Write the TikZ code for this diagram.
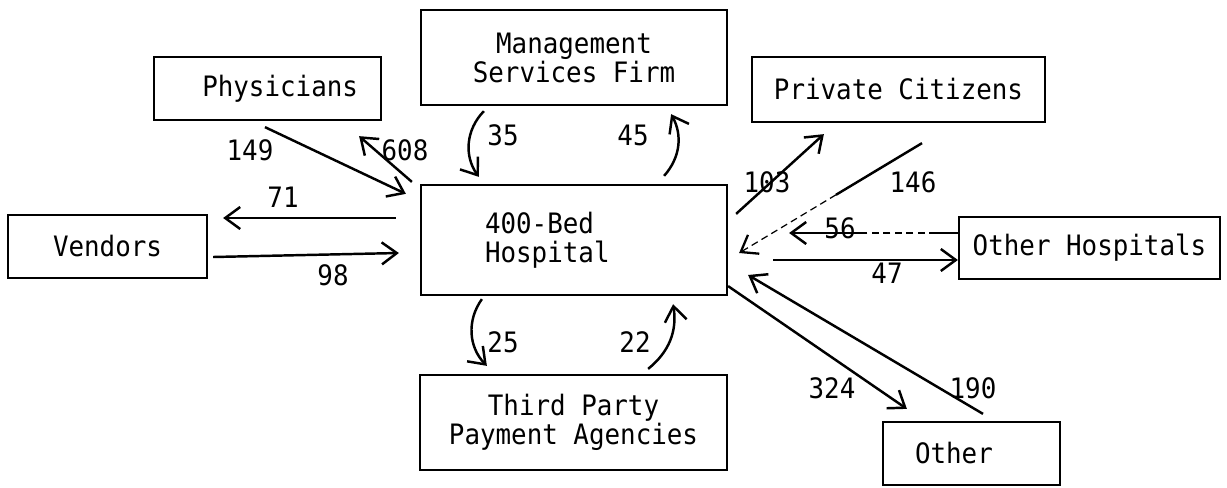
\documentclass[tikz,border=0pt]{standalone}
\usepackage{fontspec}
\setmainfont[FakeStretch=0.92]{DejaVu Sans Mono}
\usetikzlibrary{arrows.meta}
\tikzstyle{entity} = [rectangle, draw=black, line width=1.3pt, inner sep=0pt, align=center, font=\fontsize{16}{16.5}\selectfont]
\tikzstyle{amount} = [inner sep=0pt, font=\fontsize{16}{16.5}\selectfont]
\tikzstyle{flow} = [line width=1.4pt]
\tikzstyle{arrow} = [line width=1.4pt, -{Straight Barb[length=3mm,width=4.4mm]}]
\tikzstyle{faint} = [line width=0.7pt, dash pattern=on 4pt off 2.5pt]

\begin{document}
\begin{tikzpicture}[x=0.02cm, y=-0.02cm]
  \useasboundingbox (0,0) rectangle (1227,487);

  % boxes
  \node (hosp) [entity, minimum width=6.12cm, minimum height=2.2cm, text width=3.56cm, align=left] at (574,240) {400-Bed\\Hospital};
  \node (phys) [entity, minimum width=4.54cm, minimum height=1.26cm, text width=3.62cm, align=right] at (267.5,88.5) {Physicians};
  \node (mgmt) [entity, minimum width=6.12cm, minimum height=1.9cm] at (574,57.5) {Management\\Services Firm};
  \node (priv) [entity, minimum width=5.86cm, minimum height=1.3cm] at (898.5,89.5) {Private Citizens};
  \node (vend) [entity, minimum width=3.98cm, minimum height=1.26cm] at (107.5,246.5) {Vendors};
  \node (ohosp) [entity, minimum width=5.22cm, minimum height=1.24cm] at (1089.5,248) {Other Hospitals};
  \node (third) [entity, minimum width=6.14cm, minimum height=1.9cm] at (573.5,422.5) {Third Party\\Payment Agencies};
  \node (other) [entity, minimum width=3.54cm, minimum height=1.26cm, text width=2.26cm, align=left] at (971.5,453.5) {Other};

  % flows
  \draw [arrow] ([shift={(-2.5,6)}]phys.south) -- ([shift={(-14,10)}]hosp.north west);
  \draw [arrow] ([shift={(-8,-2)}]hosp.north west) -- ([shift={(-23,15)}]phys.south east);
  \draw [arrow] ([shift={(-24,-22)}]hosp.west) -- ([shift={(15,-28.5)}]vend.east);
  \draw [arrow] ([shift={(5,10.5)}]vend.east) -- ([shift={(-21,13)}]hosp.west);
  \draw [arrow] ([shift={(64,5)}]mgmt.south west) to[bend right=40] ([shift={(59,-7)}]hosp.north west);
  \draw [arrow] ([shift={(-64,-8)}]hosp.north east) to[bend right=35] ([shift={(-57,8)}]mgmt.south east);
  \draw [arrow] ([shift={(62,3)}]hosp.south west) to[bend right=40] ([shift={(68,-8)}]third.north west);
  \draw [arrow] ([shift={(-80,-5)}]third.north east) to[bend right=30] ([shift={(-55,8)}]hosp.south east);
  \draw [arrow] ([shift={(8,30)}]hosp.north east) -- ([shift={(73,11)}]priv.south west);

  % 146 fades out towards the hospital
  \path ([shift={(23.5,20)}]priv.south) -- coordinate[pos=0.47] (m146) ([shift={(11,13)}]hosp.east);
  \draw [flow] ([shift={(23.5,20)}]priv.south) -- (m146);
  \draw [faint, -{Straight Barb[length=3mm,width=4.4mm,line width=1.3pt]}] (m146) -- ([shift={(11,13)}]hosp.east);

  % 56 is broken in the middle
  \path ([shift={(0,-15)}]ohosp.west) -- coordinate[pos=0.13] (a56) coordinate[pos=0.58] (b56) ([shift={(61,-7)}]hosp.east);
  \draw [flow] ([shift={(0,-15)}]ohosp.west) -- (a56);
  \draw [faint] (a56) -- (b56);
  \draw [arrow] (b56) -- ([shift={(61,-7)}]hosp.east);

  \draw [arrow] ([shift={(45,20)}]hosp.east) -- ([shift={(0,12)}]ohosp.west);
  \draw [arrow] ([shift={(0,-10)}]hosp.south east) -- ([shift={(25,-12)}]other.north west);
  \draw [arrow] ([shift={(11.5,-7)}]other.north) -- ([shift={(20,35)}]hosp.east);

  % amounts
  \node (n149) [amount] at (250,150) {149};
  \node (n608) [amount] at (405,150) {608};
  \node (n71) [amount] at (283,197) {71};
  \node (n98) [amount] at (333,275) {98};
  \node (n35) [amount] at (503,135) {35};
  \node (n45) [amount] at (633,135) {45};
  \node (n25) [amount] at (503,342) {25};
  \node (n22) [amount] at (635,342) {22};
  \node (n103) [amount] at (767,182) {103};
  \node (n146) [amount] at (913,182) {146};
  \node (n56) [amount] at (840,228) {56};
  \node (n47) [amount] at (887,273) {47};
  \node (n324) [amount] at (832,388) {324};
  \node (n190) [amount] at (973,388) {190};

\end{tikzpicture}
\end{document}
